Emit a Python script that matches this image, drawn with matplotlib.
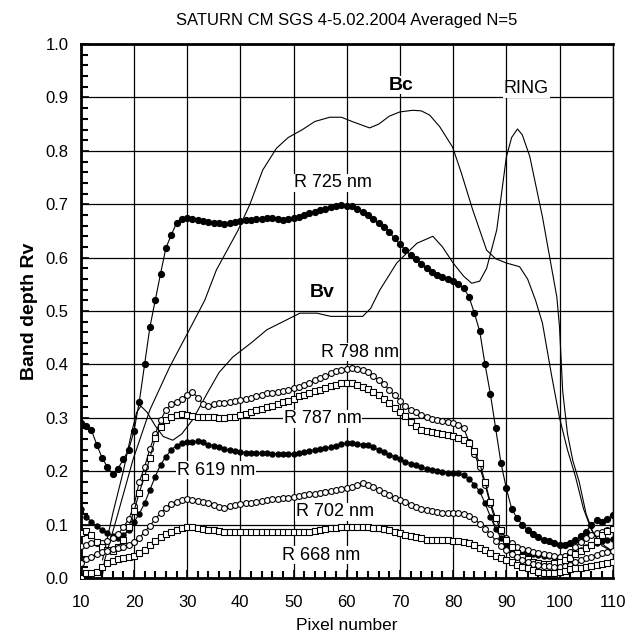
import numpy as np
import matplotlib
matplotlib.use("Agg")
import matplotlib.pyplot as plt
from matplotlib.ticker import MultipleLocator


# pixel numbers 10..110 for the marker series
pix = np.arange(10, 111)

r725 = [0.29, 0.285, 0.277, 0.25, 0.225, 0.208, 0.195, 0.205, 0.222, 0.24,
        0.275, 0.33, 0.40, 0.47, 0.52, 0.57, 0.618, 0.642, 0.665, 0.672,
        0.674, 0.672, 0.670, 0.668, 0.666, 0.665, 0.664, 0.663, 0.665, 0.666,
        0.668, 0.670, 0.671, 0.672, 0.673, 0.674, 0.674, 0.672, 0.670, 0.672,
        0.675, 0.677, 0.680, 0.683, 0.686, 0.689, 0.692, 0.695, 0.697, 0.698,
        0.697, 0.696, 0.692, 0.686, 0.680, 0.672, 0.665, 0.658, 0.648, 0.636,
        0.625, 0.615, 0.605, 0.597, 0.588, 0.580, 0.574, 0.568, 0.564, 0.560,
        0.556, 0.550, 0.543, 0.526, 0.496, 0.462, 0.400, 0.345, 0.280, 0.215,
        0.168, 0.130, 0.112, 0.100, 0.090, 0.082, 0.076, 0.072, 0.069, 0.065,
        0.062, 0.062, 0.066, 0.071, 0.079, 0.087, 0.100, 0.108, 0.105, 0.110,
        0.118]

r798 = [0.06, 0.062, 0.065, 0.066, 0.066, 0.07, 0.075, 0.082, 0.095, 0.11,
        0.135, 0.18, 0.208, 0.242, 0.27, 0.295, 0.315, 0.325, 0.33, 0.336,
        0.342, 0.348, 0.338, 0.325, 0.323, 0.325, 0.327, 0.328, 0.33, 0.332,
        0.334, 0.336, 0.338, 0.34, 0.343, 0.346, 0.347, 0.348, 0.35, 0.352,
        0.355, 0.358, 0.362, 0.366, 0.37, 0.375, 0.379, 0.383, 0.387, 0.39,
        0.392, 0.393, 0.392, 0.389, 0.385, 0.378, 0.371, 0.363, 0.352, 0.342,
        0.332, 0.322, 0.315, 0.31, 0.305, 0.301, 0.298, 0.296, 0.294, 0.292,
        0.29, 0.287, 0.28, 0.255, 0.232, 0.208, 0.175, 0.138, 0.105, 0.088,
        0.075, 0.066, 0.058, 0.055, 0.052, 0.049, 0.047, 0.045, 0.043, 0.041,
        0.04, 0.042, 0.048, 0.058, 0.068, 0.075, 0.08, 0.084, 0.087, 0.09,
        0.092]

r787 = [0.085, 0.088, 0.08, 0.068, 0.058, 0.052, 0.05, 0.058, 0.072, 0.095,
        0.125, 0.16, 0.19, 0.225, 0.262, 0.282, 0.296, 0.302, 0.305, 0.307,
        0.306, 0.303, 0.302, 0.302, 0.302, 0.301, 0.3, 0.3, 0.301, 0.302,
        0.305, 0.308, 0.311, 0.314, 0.317, 0.32, 0.323, 0.326, 0.329, 0.332,
        0.336, 0.34, 0.343, 0.346, 0.35, 0.353, 0.356, 0.359, 0.362, 0.365,
        0.366, 0.365, 0.362, 0.358, 0.354, 0.348, 0.342, 0.335, 0.327, 0.318,
        0.31, 0.303, 0.293, 0.284, 0.278, 0.275, 0.273, 0.271, 0.269, 0.267,
        0.265, 0.262, 0.258, 0.252, 0.238, 0.215, 0.18, 0.142, 0.112, 0.09,
        0.072, 0.058, 0.047, 0.04, 0.035, 0.03, 0.028, 0.027, 0.027, 0.028,
        0.03, 0.033, 0.038, 0.044, 0.05, 0.056, 0.062, 0.07, 0.08, 0.088,
        0.092]

r619 = [0.13, 0.115, 0.105, 0.097, 0.09, 0.085, 0.078, 0.075, 0.08, 0.09,
        0.105, 0.12, 0.14, 0.165, 0.19, 0.212, 0.227, 0.24, 0.248, 0.252,
        0.254, 0.255, 0.256, 0.254, 0.25, 0.248, 0.245, 0.242, 0.239, 0.237,
        0.236, 0.235, 0.235, 0.234, 0.234, 0.234, 0.233, 0.232, 0.232, 0.232,
        0.233, 0.234, 0.236, 0.238, 0.24, 0.242, 0.243, 0.245, 0.248, 0.251,
        0.253, 0.252, 0.251, 0.25, 0.249, 0.245, 0.24, 0.236, 0.231, 0.227,
        0.222, 0.218, 0.214, 0.211, 0.208, 0.205, 0.202, 0.2, 0.198, 0.197,
        0.197, 0.196, 0.192, 0.185, 0.175, 0.162, 0.14, 0.115, 0.092, 0.075,
        0.062, 0.055, 0.05, 0.048, 0.047, 0.045, 0.043, 0.042, 0.041, 0.04,
        0.04, 0.041, 0.043, 0.047, 0.052, 0.058, 0.062, 0.066, 0.069, 0.071,
        0.073]

r702 = [0.028, 0.035, 0.04, 0.045, 0.048, 0.05, 0.054, 0.056, 0.058, 0.062,
        0.068, 0.075, 0.086, 0.098, 0.11, 0.122, 0.132, 0.139, 0.143, 0.146,
        0.147, 0.146, 0.144, 0.142, 0.14, 0.137, 0.133, 0.131, 0.134, 0.137,
        0.139, 0.14, 0.141, 0.143, 0.145, 0.146, 0.147, 0.148, 0.149, 0.15,
        0.152, 0.154, 0.155, 0.157, 0.158, 0.16, 0.161, 0.163, 0.165, 0.167,
        0.168, 0.171, 0.175, 0.178, 0.175, 0.17, 0.165, 0.16, 0.155, 0.15,
        0.146, 0.142, 0.137, 0.133, 0.13, 0.127, 0.125, 0.123, 0.122, 0.122,
        0.122, 0.122, 0.12, 0.116, 0.11, 0.102, 0.092, 0.082, 0.07, 0.06,
        0.052, 0.045, 0.04, 0.034, 0.03, 0.027, 0.025, 0.023, 0.022, 0.021,
        0.02, 0.022, 0.025, 0.029, 0.033, 0.037, 0.04, 0.043, 0.046, 0.048,
        0.05]

r668 = [0.0, 0.009, 0.01, 0.011, 0.02, 0.028, 0.032, 0.035, 0.038, 0.04,
        0.042, 0.046, 0.053, 0.062, 0.07, 0.076, 0.082, 0.087, 0.09, 0.094,
        0.096, 0.095, 0.093, 0.092, 0.09, 0.089, 0.088, 0.087, 0.086, 0.086,
        0.086, 0.086, 0.086, 0.086, 0.086, 0.086, 0.086, 0.086, 0.086, 0.086,
        0.086, 0.086, 0.086, 0.086, 0.088, 0.09, 0.091, 0.093, 0.094, 0.095,
        0.096, 0.096, 0.096, 0.096, 0.095, 0.094, 0.093, 0.091, 0.09, 0.087,
        0.084, 0.081, 0.079, 0.076, 0.074, 0.072, 0.071, 0.071, 0.071, 0.071,
        0.07, 0.069, 0.067, 0.065, 0.062, 0.057, 0.052, 0.047, 0.042, 0.037,
        0.033, 0.029, 0.025, 0.021, 0.018, 0.015, 0.012, 0.01, 0.009, 0.01,
        0.012, 0.014, 0.016, 0.018, 0.019, 0.021, 0.023, 0.025, 0.027, 0.028,
        0.03]

# thin lines (no markers)
bc_x = [14, 14.5, 16.8, 19.8, 23, 26.7, 30.1, 33.3, 35.5, 39.5, 41.8, 44.2,
        46.8, 49, 51.7, 54, 56.8, 59, 61, 64.3, 66, 68, 70, 72.4, 74, 75.6,
        77.5, 79.9, 81.5, 83.7, 86.3, 88, 90, 92.5, 94, 95.5, 96.8, 98.5, 100,
        101.5, 103, 104.5, 106, 108, 110]
bc_y = [0.0, 0.034, 0.114, 0.221, 0.315, 0.395, 0.459, 0.52, 0.577, 0.65,
        0.70, 0.764, 0.805, 0.825, 0.84, 0.855, 0.863, 0.863, 0.855, 0.843,
        0.85, 0.865, 0.873, 0.876, 0.875, 0.867, 0.845, 0.807, 0.76, 0.689,
        0.614, 0.598, 0.59, 0.583, 0.56, 0.52, 0.477, 0.38, 0.3, 0.24, 0.19,
        0.13, 0.09, 0.06, 0.05]

bv_x = [14.1, 16, 18, 19.5, 20.5, 21.3, 22.5, 24, 25.5, 27.3, 29, 31, 34, 36,
        38.6, 42, 45, 48, 51.2, 54.4, 57, 60, 63, 64.5, 66.2, 69.4, 73.2, 76.2,
        78, 80, 82, 83.5, 85, 86.3, 88.2, 90, 91, 92.1, 93, 94.4, 96.8, 99.5,
        100, 100.6, 101.5, 102.5, 103.7, 105, 106.5, 108.5, 110]
bv_y = [0.034, 0.12, 0.2, 0.27, 0.31, 0.322, 0.31, 0.285, 0.265, 0.258, 0.27,
        0.296, 0.35, 0.385, 0.414, 0.44, 0.465, 0.48, 0.496, 0.496, 0.49, 0.49,
        0.49, 0.505, 0.539, 0.59, 0.627, 0.64, 0.62, 0.59, 0.565, 0.552, 0.556,
        0.58, 0.652, 0.788, 0.825, 0.841, 0.83, 0.79, 0.676, 0.526, 0.47, 0.35,
        0.27, 0.22, 0.18, 0.12, 0.08, 0.06, 0.05]


plt.rcParams["font.family"] = ["Liberation Sans", "DejaVu Sans"]
plt.rcParams["xtick.direction"] = "in"
plt.rcParams["ytick.direction"] = "in"

fig = plt.figure(figsize=(6.31, 6.39), dpi=100)
ax = fig.add_axes([0.128, 0.0955, 0.843, 0.8355])

# thin curves
ax.plot(bc_x, bc_y, color="black", lw=0.8, zorder=3)
ax.plot(bv_x, bv_y, color="black", lw=0.8, zorder=3)

# marker curves
ax.plot(pix, r725, color="black", lw=0.8, marker="o", ms=4.2,
        mfc="black", mec="black", zorder=4)
ax.plot(pix, r619, color="black", lw=0.8, marker="o", ms=3.6,
        mfc="black", mec="black", zorder=4)
ax.plot(pix, r798, color="black", lw=0.8, marker="o", ms=4.2,
        mfc="white", mec="black", mew=0.8, zorder=4)
ax.plot(pix, r787, color="black", lw=0.8, marker="s", ms=4.0,
        mfc="white", mec="black", mew=0.8, zorder=4)
ax.plot(pix, r702, color="black", lw=0.8, marker="o", ms=4.2,
        mfc="white", mec="black", mew=0.8, zorder=4)
ax.plot(pix, r668, color="black", lw=0.8, marker="s", ms=4.0,
        mfc="white", mec="black", mew=0.8, zorder=4)

# labels on the curves
box = dict(facecolor="white", edgecolor="none", pad=0.5)
lab = dict(fontsize=13, ha="center", va="center", bbox=box, zorder=6)
ax.text(70.3, 0.923, "Bc", fontweight="bold", **{**lab, "fontsize": 14})
ax.text(93.8, 0.916, "RING", **lab)
ax.text(57.4, 0.74, "R 725 nm", **lab)
ax.text(55.3, 0.534, "Bv", fontweight="bold", **{**lab, "fontsize": 14})
ax.text(62.4, 0.423, "R 798 nm", **lab)
ax.text(55.5, 0.298, "R 787 nm", **lab)
ax.text(35.4, 0.202, "R 619 nm", **lab)
ax.text(57.7, 0.124, "R 702 nm", **lab)
ax.text(55.1, 0.043, "R 668 nm", **lab)

# axes
ax.set_xlim(10, 110)
ax.set_ylim(0.0, 1.0)
ax.xaxis.set_major_locator(MultipleLocator(10))
ax.xaxis.set_minor_locator(MultipleLocator(2))
ax.yaxis.set_major_locator(MultipleLocator(0.1))
ax.yaxis.set_minor_locator(MultipleLocator(0.02))
ax.yaxis.set_major_formatter(plt.FormatStrFormatter("%.1f"))
ax.grid(which="major", color="black", lw=0.9, zorder=1)
ax.set_axisbelow(True)

ax.tick_params(which="major", length=6, width=1.2, labelsize=12, pad=9)
ax.tick_params(axis="x", which="major", pad=12)
ax.tick_params(which="minor", length=5, width=1.5)
ax.tick_params(top=False, right=False, which="both")

ax.spines["left"].set_linewidth(2)
ax.spines["bottom"].set_linewidth(2)
ax.spines["top"].set_linewidth(2)
ax.spines["right"].set_linewidth(1)

ax.set_xlabel("Pixel number", fontsize=12.5, labelpad=6)
ax.set_ylabel("Band depth Rv", fontsize=14, fontweight="bold", labelpad=5)
ax.set_title("SATURN CM SGS 4-5.02.2004 Averaged N=5", fontsize=12, pad=14)

plt.savefig("out.png", dpi=100)
